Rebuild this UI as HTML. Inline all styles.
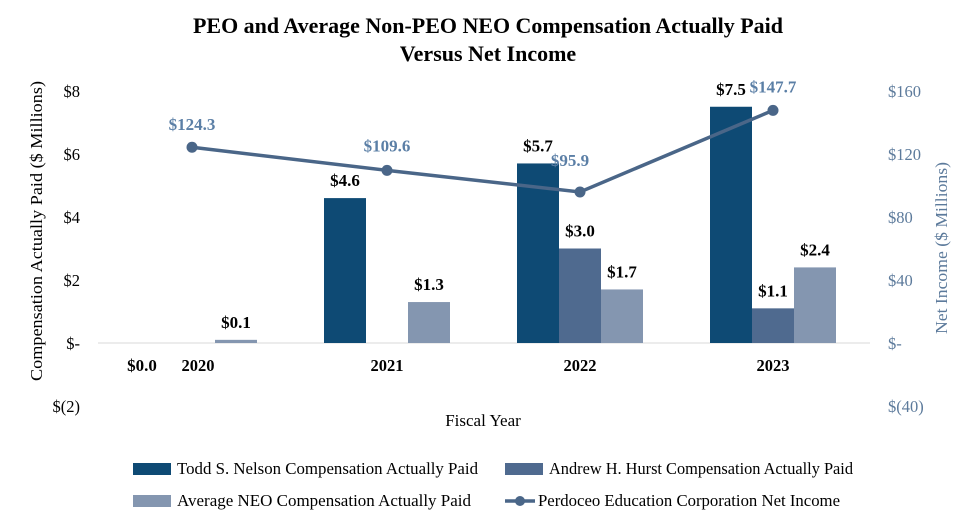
<!DOCTYPE html>
<html><head><meta charset="utf-8"><style>
body{margin:0;background:#fff;font-family:"Liberation Serif",serif;}
svg{display:block}
</style></head><body>
<svg id="c" width="976" height="526" xmlns="http://www.w3.org/2000/svg">
<text x="488" y="33" text-anchor="middle" font-size="22" font-weight="bold" textLength="590" lengthAdjust="spacingAndGlyphs">PEO and Average Non-PEO NEO Compensation Actually Paid</text>
<text x="488" y="61" text-anchor="middle" font-size="22" font-weight="bold">Versus Net Income</text>
<g id="plot"></g>
</svg>
<script>
const categories=["2020","2021","2022","2023"];
const todd=[0.0,4.6,5.7,7.5];
const andrew=[null,null,3.0,1.1];
const avgNeo=[0.1,1.3,1.7,2.4];
const netIncome=[124.3,109.6,95.9,147.7];
const leftTicks=[8,6,4,2,0,-2];
const leftTickLabels=["$8","$6","$4","$2","$-","$(2)"];
const rightTicks=[160,120,80,40,0,-40];
const rightTickLabels=["$160","$120","$80","$40","$-","$(40)"];

const NS="http://www.w3.org/2000/svg";
const g=document.getElementById('plot');
const yL=v=>343-v*31.5;
const yR=v=>343-v*1.575;
const xC=i=>194+i*193;
const bw=42;
function el(t,a,txt){const e=document.createElementNS(NS,t);for(const k in a)e.setAttribute(k,a[k]);if(txt!=null)e.textContent=txt;g.appendChild(e);return e;}

leftTicks.forEach((v,i)=>{const t=el('text',{x:80,y:yL(v)+6,'text-anchor':'end','font-size':16.5},leftTickLabels[i]);

});
rightTicks.forEach((v,i)=>{const t=el('text',{x:888,y:yR(v)+6,'font-size':16.5,fill:'#5c7a9b'},rightTickLabels[i]);

});
const ax=el('line',{x1:98,x2:870,y1:yL(0),y2:yL(0),stroke:'#d9d9d9','stroke-width':1});



const series=[[todd,'#0e4a74',-1,'todd'],[andrew,'#4f6a8f',0,'andrew'],[avgNeo,'#8496b0',1,'avg-neo']];
series.forEach(([arr,col,off,nm])=>{
 arr.forEach((v,i)=>{
  if(v==null)return;
  const x=xC(i)+off*bw-bw/2;
  const y0=yL(0),y1=yL(v);
  const r=el('rect',{x:x,y:Math.min(y0,y1),width:bw,height:Math.abs(y0-y1),fill:col});
  
  
  if(v>0){const t=el('text',{x:x+bw/2,y:y1-12,'text-anchor':'middle','font-size':17,'font-weight':'bold'},'$'+v.toFixed(1));
  
  }
  else{const t=el('text',{x:x+bw/2-10,y:371,'text-anchor':'middle','font-size':17,'font-weight':'bold'},'$'+v.toFixed(1));
  
  }
 });
});
categories.forEach((c,i)=>{const t=el('text',{x:xC(i)+(i==0?4:0),y:371,'text-anchor':'middle','font-size':16.5,'font-weight':'bold'},c);

});

const pts=netIncome.map((v,i)=>[xC(i)-(i==0?2:0),yR(v)]);
const pl=el('polyline',{points:pts.map(p=>p.join(',')).join(' '),fill:'none',stroke:'#4a6688','stroke-width':3.5});


const lblOff=[[0,-17],[0,-19],[-10,-26],[0,-18]];
pts.forEach((p,i)=>{const c=el('circle',{cx:p[0],cy:p[1],r:5.5,fill:'#4a6688'});


const t=el('text',{x:p[0]+lblOff[i][0],y:p[1]+lblOff[i][1],'text-anchor':'middle','font-size':17,'font-weight':'bold',fill:'#5b7fa6'},'$'+netIncome[i].toFixed(1));

});

let t=el('text',{x:483,y:426,'text-anchor':'middle','font-size':17},'Fiscal Year');


t=el('text',{x:0,y:0,'text-anchor':'middle','font-size':16.5,textLength:300,lengthAdjust:'spacingAndGlyphs',transform:'translate(42,231) rotate(-90)'},'Compensation Actually Paid ($ Millions)');


t=el('text',{x:0,y:0,'text-anchor':'middle','font-size':16.5,textLength:172,lengthAdjust:'spacingAndGlyphs',fill:'#5c7a9b',transform:'translate(947,248) rotate(-90)'},'Net Income ($ Millions)');



const leg=[[133,469,'#0e4a74','Todd S. Nelson Compensation Actually Paid','bar',301],[505,469,'#4f6a8f','Andrew H. Hurst Compensation Actually Paid','bar',304],[133,501,'#8496b0','Average NEO Compensation Actually Paid','bar',294],[505,501,'#4a6688','Perdoceo Education Corporation Net Income','line',302]];
leg.forEach(([x,y,col,txt,k,w])=>{
 let m;
 if(k=='bar')m=el('rect',{x:x,y:y-6,width:38,height:12,fill:col});
 else{m=el('line',{x1:x,x2:x+30,y1:y,y2:y,stroke:col,'stroke-width':3.5});el('circle',{cx:x+15,cy:y,r:5,fill:col});}
 
 
 const tt=el('text',{x:x+(k=='bar'?44:33),y:y+5,'font-size':16.5,textLength:w,lengthAdjust:'spacingAndGlyphs'},txt);
 
 
});
</script>
</body></html>
